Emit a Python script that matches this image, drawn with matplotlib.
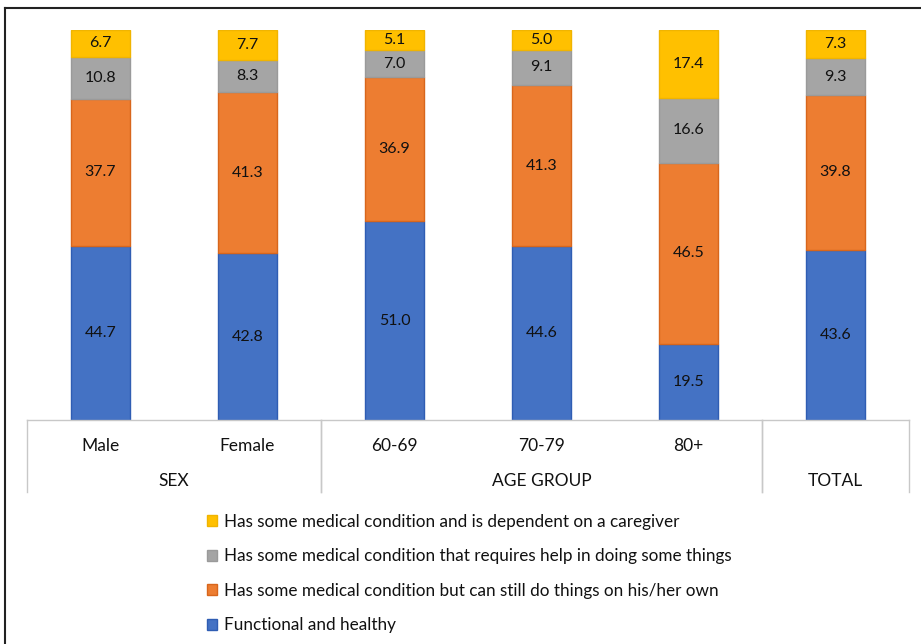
import matplotlib.pyplot as plt
from matplotlib.lines import Line2D
from matplotlib.patches import Patch
import numpy as np

plt.rcParams["font.family"] = ["Lato", "DejaVu Sans"]

categories = ["Male", "Female", "60-69", "70-79", "80+", ""]
groups = ["SEX", "AGE GROUP", "TOTAL"]
group_spans = [(0, 1), (2, 4), (5, 5)]

series_names = [
	"Functional and healthy",
	"Has some medical condition but can still do things on his/her own",
	"Has some medical condition that requires help in doing some things",
	"Has some medical condition and is dependent on a caregiver",
]
functional = [44.7, 42.8, 51.0, 44.6, 19.5, 43.6]
own = [37.7, 41.3, 36.9, 41.3, 46.5, 39.8]
help_some = [10.8, 8.3, 7.0, 9.1, 16.6, 9.3]
caregiver = [6.7, 7.7, 5.1, 5.0, 17.4, 7.3]

colors = ["#4472C4", "#ED7D31", "#A5A5A5", "#FFC000"]
edges = ["#2F5DB3", "#D8661C", "#9A9A9A", "#F0B400"]
txt = "#111111"

W, H = 921, 644
fig = plt.figure(figsize=(W / 100, H / 100), dpi=100)
ax = fig.add_axes([27 / W, (H - 420) / H, (909 - 27) / W, (420 - 30) / H])

x = np.arange(len(categories))
bottom = np.zeros(len(categories))
for vals, c, ec in zip([functional, own, help_some, caregiver], colors, edges):
	vals = np.array(vals)
	ax.bar(x, vals, bottom=bottom, width=0.4, color=c, edgecolor=ec, linewidth=1.0)
	for xi, b, v in zip(x, bottom, vals):
		ax.text(xi, b + v / 2, f"{v:.1f}", ha="center", va="center",
				fontsize=11.5, color=txt)
	bottom = bottom + vals

ax.set_xlim(-0.5, len(categories) - 0.5)
ax.set_ylim(0, 100)
ax.set_xticks([])
ax.set_yticks([])
for s in ["left", "right", "top"]:
	ax.spines[s].set_visible(False)
ax.spines["bottom"].set_color("#C8C8C8")
ax.spines["bottom"].set_linewidth(1.0)

# category / group axis below the bars
trans = ax.get_xaxis_transform()
line_bottom = -(492 - 420) / (420 - 30)
for lo, hi in group_spans:
	for xb in [lo - 0.5, hi + 0.5]:
		ax.add_line(Line2D([xb, xb], [0, line_bottom], transform=trans,
						   color="#C8C8C8", linewidth=1.0, clip_on=False))
for xi, lab in zip(x, categories):
	ax.text(xi, -(446 - 420) / 390, lab, transform=trans, ha="center",
			va="center", fontsize=12.5, color=txt)
for (lo, hi), g in zip(group_spans, groups):
	ax.text((lo + hi) / 2, -(481 - 420) / 390, g, transform=trans,
			ha="center", va="center", fontsize=12.5, color=txt)

# legend
handles = [Patch(facecolor=c, edgecolor=ec) for c, ec in zip(colors, edges)][::-1]
fig.legend(handles, series_names[::-1], loc="upper left",
		   bbox_to_anchor=(200 / W, (H - 507) / H), frameon=False,
		   fontsize=12.3, handlelength=0.6, handleheight=0.6,
		   handletextpad=0.4, labelspacing=1.08, borderaxespad=0,
		   labelcolor=txt)

# outer frame (left and top only)
fig.add_artist(Line2D([5 / W, 5 / W], [0, (H - 8) / H], color="#222222", linewidth=1.5))
fig.add_artist(Line2D([5 / W, 1], [(H - 8) / H, (H - 8) / H], color="#222222", linewidth=1.5))

fig.savefig("out.png", dpi=100)
